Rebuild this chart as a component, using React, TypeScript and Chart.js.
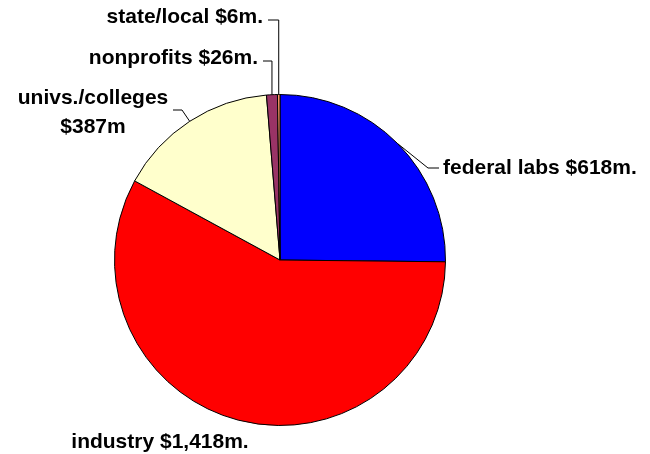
import React, { useEffect, useRef } from "react";
import { Chart, registerables } from "chart.js";

Chart.register(...registerables);

const categories = ["federal labs", "industry", "univs./colleges", "nonprofits", "state/local"];
const values = [618, 1418, 387, 26, 6];
const valueLabels = ["$618m.", "$1,418m.", "$387m", "$26m.", "$6m."];
const colors = ["#0000FF", "#FF0000", "#FFFFCC", "#993366", "#FF9966"];

const FONT = "bold 21px 'Liberation Sans', Arial, sans-serif";

type LabelLayout = {
  lines: string[];
  x: number;
  y: number;
  align: CanvasTextAlign;
  lineGap: number;
  leader: null | { mode: "vertical" | "elbow"; elbow?: [number, number]; endX: number; endY: number };
};

const layouts: LabelLayout[] = [
  { lines: ["federal labs $618m."], x: 443, y: 168, align: "left", lineGap: 0, leader: { mode: "elbow", elbow: [428, 168], endX: 439, endY: 168 } },
  { lines: ["industry $1,418m."], x: 160, y: 442, align: "center", lineGap: 0, leader: null },
  { lines: ["univs./colleges", "$387m"], x: 93, y: 98, align: "center", lineGap: 29, leader: { mode: "elbow", elbow: [182, 110], endX: 173, endY: 110 } },
  { lines: ["nonprofits $26m."], x: 258, y: 58, align: "right", lineGap: 0, leader: { mode: "vertical", endX: 263, endY: 61 } },
  { lines: ["state/local $6m."], x: 263, y: 17, align: "right", lineGap: 0, leader: { mode: "vertical", endX: 268, endY: 20 } },
];

const labelPlugin = {
  id: "leaderLabels",
  afterDatasetsDraw(chart: any) {
    const ctx = chart.ctx as CanvasRenderingContext2D;
    const meta = chart.getDatasetMeta(0);
    ctx.save();
    meta.data.forEach((arc: any, i: number) => {
      const lay = layouts[i];
      if (!lay) return;
      const { x, y, startAngle, endAngle, outerRadius } = arc.getProps(["x", "y", "startAngle", "endAngle", "outerRadius"], true);
      const mid = (startAngle + endAngle) / 2;
      const ax = x + Math.cos(mid) * outerRadius;
      const ay = y + Math.sin(mid) * outerRadius;
      if (lay.leader) {
        ctx.beginPath();
        ctx.strokeStyle = "#000";
        ctx.lineWidth = 1;
        ctx.moveTo(ax, ay);
        if (lay.leader.mode === "vertical") {
          ctx.lineTo(ax, lay.leader.endY);
        } else if (lay.leader.elbow) {
          ctx.lineTo(lay.leader.elbow[0], lay.leader.elbow[1]);
        }
        ctx.lineTo(lay.leader.endX, lay.leader.endY);
        ctx.stroke();
      }
      ctx.fillStyle = "#000";
      ctx.font = FONT;
      ctx.textAlign = lay.align;
      ctx.textBaseline = "middle";
      lay.lines.forEach((t, k) => ctx.fillText(t, lay.x, lay.y + k * lay.lineGap));
    });
    ctx.restore();
  },
};

export default function App() {
  const ref = useRef<HTMLCanvasElement>(null);
  useEffect(() => {
    if (!ref.current) return;
    const chart = new Chart(ref.current, {
      type: "pie",
      data: {
        labels: categories.map((c, i) => `${c} ${valueLabels[i]}`),
        datasets: [
          {
            data: values,
            backgroundColor: colors,
            borderColor: "#000000",
            borderWidth: 1,
          },
        ],
      },
      options: {
        responsive: false,
        animation: false,
        layout: { padding: { top: 94, bottom: 28, left: 114, right: 204 } },
        plugins: { legend: { display: false }, tooltip: { enabled: false } },
      },
      plugins: [labelPlugin],
    });
    return () => chart.destroy();
  }, []);
  return (
    <div style={{ position: "fixed", left: 0, top: 0, width: 650, height: 454, background: "#fff" }}>
      <canvas ref={ref} width={650} height={454} />
    </div>
  );
}
